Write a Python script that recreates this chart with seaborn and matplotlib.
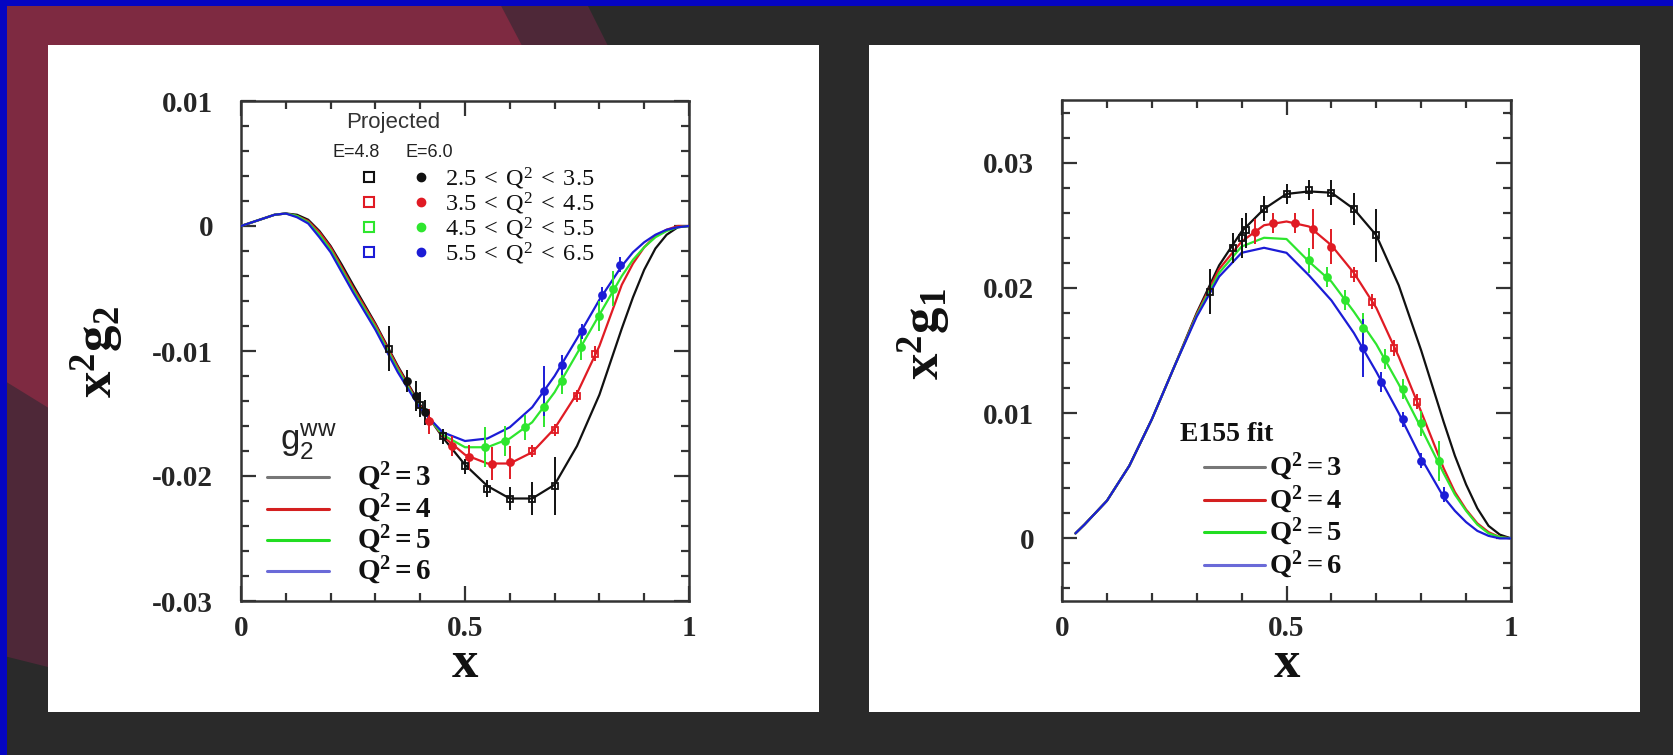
import numpy as np
import pandas as pd
import matplotlib
matplotlib.use("Agg")
import matplotlib.pyplot as plt
import seaborn as sns
from matplotlib.patches import Rectangle, Polygon
from matplotlib.ticker import MultipleLocator

# ---------------- data: x^2 g2 (WW) curves ----------------
x_g2 = [0.0, 0.025, 0.05, 0.075, 0.10, 0.125, 0.15, 0.175, 0.20, 0.225, 0.25, 0.30, 0.35, 0.40,
        0.45, 0.50, 0.55, 0.60, 0.65, 0.70, 0.75, 0.80, 0.85, 0.875, 0.90, 0.925, 0.95, 0.975, 1.0]
g2_q3 = [0.0, 0.0003, 0.0006, 0.0009, 0.0010, 0.0009, 0.0005, -0.0004, -0.0016, -0.0031, -0.0047,
         -0.0078, -0.0112, -0.0143, -0.0169, -0.0191, -0.0208, -0.0218, -0.0218, -0.0207, -0.0176,
         -0.0135, -0.0082, -0.0057, -0.0035, -0.0018, -0.0007, -0.0001, 0.0]
g2_q4 = [0.0, 0.0003, 0.0006, 0.0009, 0.0010, 0.0008, 0.0004, -0.0005, -0.0017, -0.0033, -0.0049,
         -0.0079, -0.0113, -0.0144, -0.0168, -0.0183, -0.0190, -0.0190, -0.0181, -0.0162, -0.0134,
         -0.0096, -0.0047, -0.0030, -0.0017, -0.0008, -0.0003, 0.0, 0.0]
g2_q5 = [0.0, 0.0003, 0.0006, 0.0009, 0.0010, 0.0008, 0.0003, -0.0007, -0.0019, -0.0035, -0.0051,
         -0.0081, -0.0115, -0.0145, -0.0167, -0.0177, -0.0177, -0.0170, -0.0157, -0.0133, -0.0102,
         -0.0071, -0.0040, -0.0027, -0.0017, -0.0009, -0.0004, -0.0001, 0.0]
g2_q6 = [0.0, 0.0003, 0.0006, 0.0009, 0.0010, 0.0007, 0.0002, -0.0009, -0.0021, -0.0037, -0.0053,
         -0.0083, -0.0117, -0.0146, -0.0165, -0.0172, -0.0170, -0.0161, -0.0145, -0.0120, -0.0090,
         -0.0059, -0.0032, -0.0021, -0.0013, -0.0007, -0.0003, -0.0001, 0.0]

# ---------------- data: x^2 g1 (E155 fit) curves ----------------
x_g1 = [0.03, 0.05, 0.10, 0.15, 0.20, 0.25, 0.30, 0.35, 0.40, 0.45, 0.50, 0.55,
        0.60, 0.65, 0.70, 0.75, 0.80, 0.85, 0.875, 0.90, 0.925, 0.95, 0.975, 1.0]
g1_q3 = [0.0004, 0.0011, 0.0030, 0.0058, 0.0095, 0.0137, 0.0180, 0.0218, 0.0245, 0.0263, 0.0275, 0.0277,
         0.0276, 0.0263, 0.0242, 0.0202, 0.0150, 0.0093, 0.0066, 0.0043, 0.0024, 0.0010, 0.0003, 0.0]
g1_q4 = [0.0004, 0.0011, 0.0030, 0.0058, 0.0095, 0.0137, 0.0179, 0.0215, 0.0237, 0.0250, 0.0253, 0.0249,
         0.0234, 0.0212, 0.0184, 0.0145, 0.0101, 0.0056, 0.0037, 0.0023, 0.0012, 0.0005, 0.0001, 0.0]
g1_q5 = [0.0004, 0.0011, 0.0030, 0.0058, 0.0095, 0.0137, 0.0178, 0.0212, 0.0233, 0.0240, 0.0239, 0.0221,
         0.0205, 0.0181, 0.0155, 0.0123, 0.0088, 0.0052, 0.0035, 0.0022, 0.0011, 0.0004, 0.0001, 0.0]
g1_q6 = [0.0004, 0.0011, 0.0030, 0.0058, 0.0095, 0.0137, 0.0177, 0.0209, 0.0228, 0.0232, 0.0228, 0.0210,
         0.0190, 0.0164, 0.0133, 0.0100, 0.0064, 0.0033, 0.0022, 0.0013, 0.0006, 0.0002, 0.0, 0.0]

# ---------------- projected points, x^2 g2 ----------------
p2_k_sq_x = [0.33, 0.40, 0.45, 0.50, 0.55, 0.60, 0.65, 0.70]
p2_k_sq_y = [-0.0098, -0.0143, -0.0168, -0.0192, -0.0210, -0.0218, -0.0218, -0.0208]
p2_k_sq_e = [0.0018, 0.0010, 0.0006, 0.0006, 0.0007, 0.0009, 0.0013, 0.0023]
p2_k_dot_x = [0.37, 0.39, 0.41]
p2_k_dot_y = [-0.0124, -0.0136, -0.0149]
p2_k_dot_e = [0.0009, 0.0012, 0.0010]
p2_r_sq_x = [0.65, 0.70, 0.75, 0.79]
p2_r_sq_y = [-0.0180, -0.0163, -0.0136, -0.0102]
p2_r_sq_e = [0.0005, 0.0005, 0.0005, 0.0006]
p2_r_dot_x = [0.42, 0.47, 0.51, 0.56, 0.60]
p2_r_dot_y = [-0.0156, -0.0176, -0.0185, -0.0190, -0.0189]
p2_r_dot_e = [0.0010, 0.0008, 0.0010, 0.0013, 0.0013]
p2_g_dot_x = [0.545, 0.59, 0.635, 0.676, 0.717, 0.758, 0.80, 0.83]
p2_g_dot_y = [-0.0177, -0.0172, -0.0161, -0.0145, -0.0124, -0.0097, -0.0072, -0.0050]
p2_g_dot_e = [0.0016, 0.0012, 0.0010, 0.0016, 0.0010, 0.0010, 0.0012, 0.0014]
p2_b_dot_x = [0.676, 0.717, 0.762, 0.806, 0.847]
p2_b_dot_y = [-0.0132, -0.0111, -0.0084, -0.0055, -0.0031]
p2_b_dot_e = [0.0020, 0.0008, 0.0006, 0.0006, 0.0006]

# ---------------- projected points, x^2 g1 ----------------
p1_k_sq_x = [0.33, 0.38, 0.40, 0.41, 0.45, 0.50, 0.55, 0.60, 0.65, 0.70]
p1_k_sq_y = [0.0197, 0.0232, 0.0240, 0.0246, 0.0263, 0.0275, 0.0278, 0.0276, 0.0263, 0.0242]
p1_k_sq_e = [0.0018, 0.0012, 0.0016, 0.0014, 0.0010, 0.0008, 0.0008, 0.0010, 0.0013, 0.0021]
p1_r_dot_x = [0.43, 0.47, 0.52, 0.56, 0.60]
p1_r_dot_y = [0.0245, 0.0252, 0.0252, 0.0247, 0.0233]
p1_r_dot_e = [0.0010, 0.0008, 0.0008, 0.0016, 0.0014]
p1_r_sq_x = [0.65, 0.69, 0.74, 0.79]
p1_r_sq_y = [0.0211, 0.0189, 0.0152, 0.0109]
p1_r_sq_e = [0.0006, 0.0006, 0.0006, 0.0006]
p1_g_dot_x = [0.55, 0.59, 0.63, 0.67, 0.72, 0.76, 0.80, 0.84]
p1_g_dot_y = [0.0222, 0.0209, 0.0190, 0.0168, 0.0143, 0.0119, 0.0092, 0.0062]
p1_g_dot_e = [0.0010, 0.0008, 0.0008, 0.0012, 0.0008, 0.0008, 0.0010, 0.0016]
p1_b_dot_x = [0.67, 0.71, 0.76, 0.80, 0.85]
p1_b_dot_y = [0.0152, 0.0125, 0.0095, 0.0062, 0.0035]
p1_b_dot_e = [0.0023, 0.0008, 0.0006, 0.0006, 0.0006]

q2_labels = ["Q^2=3", "Q^2=4", "Q^2=5", "Q^2=6"]
bin_labels = ["2.5\\;<\\;Q^2\\;<\\;3.5", "3.5\\;<\\;Q^2\\;<\\;4.5",
              "4.5\\;<\\;Q^2\\;<\\;5.5", "5.5\\;<\\;Q^2\\;<\\;6.5"]

# ---------------- style ----------------
sns.set_theme(style="ticks")
plt.rcParams["font.family"] = ["Liberation Serif", "DejaVu Sans"]
plt.rcParams["mathtext.fontset"] = "custom"
plt.rcParams["mathtext.rm"] = "Liberation Serif"
plt.rcParams["mathtext.it"] = "Liberation Serif:italic"
plt.rcParams["mathtext.bf"] = "Liberation Serif:bold"
plt.rcParams["mathtext.sf"] = "Liberation Sans"
plt.rcParams["axes.unicode_minus"] = False

W, H = 1673, 755
fig = plt.figure(figsize=(W / 100, H / 100), dpi=100, facecolor="#2a2a2a")

# slide background
bg = fig.add_axes([0, 0, 1, 1])
bg.set_xlim(0, W)
bg.set_ylim(H, 0)
bg.axis("off")
bg.set_zorder(-5)
bg.add_patch(Polygon([(0, 0), (585, 0), (625, 80), (60, 670), (0, 655)],
                     closed=True, fc="#4e2838", ec="none"))
bg.add_patch(Polygon([(0, 0), (498, 0), (540, 80), (60, 415), (0, 378)],
                     closed=True, fc="#7e2a41", ec="none"))
bg.add_patch(Rectangle((0, 0), W, 6, fc="#0505c2", ec="none"))
bg.add_patch(Rectangle((0, 0), 7, H, fc="#0505c2", ec="none"))
bg.add_patch(Rectangle((48, 45), 771, 667, fc="white", ec="none"))
bg.add_patch(Rectangle((869, 45), 771, 667, fc="white", ec="none"))


def axrect(x0, y0, x1, y1):
    return [x0 / W, 1 - y1 / H, (x1 - x0) / W, (y1 - y0) / H]


ax1 = fig.add_axes(axrect(241, 101, 689, 601))
ax2 = fig.add_axes(axrect(1062, 100, 1511, 601))

C_K, C_R, C_G, C_B = "#111111", "#e01b24", "#2ee62e", "#1c1cd6"
colors = [C_K, C_R, C_G, C_B]
leg_colors = ["#777777", "#d42020", "#22dd22", "#6a6ad8"]
spine_c = "#333333"


def style_axes(ax, ylim, yticks, ylabels):
    ax.set_facecolor("white")
    ax.set_xlim(0, 1)
    ax.set_ylim(*ylim)
    ax.set_xticks([0, 0.5, 1], labels=["0", "0.5", "1"], fontsize=21,
                  fontweight="bold", family="Liberation Serif")
    ax.set_yticks(yticks, labels=ylabels, fontsize=21,
                  fontweight="bold", family="Liberation Serif")
    ax.xaxis.set_minor_locator(MultipleLocator(0.1))
    ax.yaxis.set_minor_locator(MultipleLocator(0.002))
    ax.tick_params(which="both", direction="in", top=True, right=True,
                   color=spine_c, width=1.6)
    ax.tick_params(which="major", length=11)
    ax.tick_params(which="minor", length=6)
    ax.tick_params(axis="x", which="major", pad=10)
    ax.tick_params(axis="y", which="major", pad=20)
    for s in ax.spines.values():
        s.set_color(spine_c)
        s.set_linewidth(1.8)


def draw_points(ax, xs, ys, es, color, marker):
    face = "none" if marker == "s" else color
    ax.errorbar(xs, ys, yerr=es, fmt=marker, color=color, mfc=face, mec=color,
                ms=5, mew=1.3, elinewidth=1.4, capsize=0, zorder=4)


# ---- left panel: x^2 g2 ----
for yv, c in zip([g2_q3, g2_q4, g2_q5, g2_q6], colors):
    sns.lineplot(x=x_g2, y=yv, ax=ax1, color=c, lw=1.6, estimator=None,
                 sort=False, legend=False, zorder=3)
draw_points(ax1, p2_k_sq_x, p2_k_sq_y, p2_k_sq_e, C_K, "s")
draw_points(ax1, p2_k_dot_x, p2_k_dot_y, p2_k_dot_e, C_K, "o")
draw_points(ax1, p2_r_sq_x, p2_r_sq_y, p2_r_sq_e, C_R, "s")
draw_points(ax1, p2_r_dot_x, p2_r_dot_y, p2_r_dot_e, C_R, "o")
draw_points(ax1, p2_g_dot_x, p2_g_dot_y, p2_g_dot_e, C_G, "o")
draw_points(ax1, p2_b_dot_x, p2_b_dot_y, p2_b_dot_e, C_B, "o")
style_axes(ax1, (-0.03, 0.01), [-0.03, -0.02, -0.01, 0, 0.01],
           ["-0.03", "-0.02", "-0.01", "0", "0.01"])

# projected legend
ax1.text(0.235, 0.0083, "Projected", family="Liberation Sans", fontsize=16,
         color="#333333", ha="left", va="center")
ax1.text(0.205, 0.0059, "E=4.8", family="Liberation Sans", fontsize=13,
         color="#222222", ha="left", va="center")
ax1.text(0.368, 0.0059, "E=6.0", family="Liberation Sans", fontsize=13,
         color="#222222", ha="left", va="center")
rows = [0.0039, 0.0019, -0.0001, -0.0021]
for yr, c, lab in zip(rows, colors, bin_labels):
    ax1.plot([0.286], [yr], marker="s", ms=7, mfc="none", mec=c, mew=1.5, ls="none")
    ax1.plot([0.401], [yr], marker="o", ms=6, mfc=c, mec=c, ls="none")
    ax1.text(0.455, yr - 0.0001, r"$\mathrm{" + lab + "}$", fontsize=17.5,
             color="#111111", ha="left", va="center")

# g2^ww legend
ax1.text(0.088, -0.0173, r"$\mathsf{g_2^{ww}}$", fontsize=25, color="#222222",
         ha="left", va="center")
rows2 = [-0.0201, -0.0226, -0.0251, -0.0276]
for yr, c, lab in zip(rows2, leg_colors, q2_labels):
    ax1.plot([0.059, 0.196], [yr, yr], color=c, lw=2.2)
    ax1.text(0.259, yr, r"$\mathbf{" + lab + "}$", fontsize=21,
             color="#111111", ha="left", va="center")

# ---- right panel: x^2 g1 ----
for yv, c in zip([g1_q3, g1_q4, g1_q5, g1_q6], colors):
    sns.lineplot(x=x_g1, y=yv, ax=ax2, color=c, lw=1.6, estimator=None,
                 sort=False, legend=False, zorder=3)
draw_points(ax2, p1_k_sq_x, p1_k_sq_y, p1_k_sq_e, C_K, "s")
draw_points(ax2, p1_r_dot_x, p1_r_dot_y, p1_r_dot_e, C_R, "o")
draw_points(ax2, p1_r_sq_x, p1_r_sq_y, p1_r_sq_e, C_R, "s")
draw_points(ax2, p1_g_dot_x, p1_g_dot_y, p1_g_dot_e, C_G, "o")
draw_points(ax2, p1_b_dot_x, p1_b_dot_y, p1_b_dot_e, C_B, "o")
style_axes(ax2, (-0.005, 0.035), [0, 0.01, 0.02, 0.03],
           ["0", "0.01", "0.02", "0.03"])

ax2.text(0.263, 0.0083, "E155 fit", fontsize=20, fontweight="bold",
         family="Liberation Serif", color="#111111", ha="left", va="center")
rows3 = [0.0057, 0.0031, 0.0005, -0.0021]
for yr, c, lab in zip(rows3, leg_colors, q2_labels):
    ax2.plot([0.316, 0.453], [yr, yr], color=c, lw=2.2)
    ax2.text(0.462, yr, r"$\mathbf{" + lab + "}$", fontsize=20.5,
             color="#111111", ha="left", va="center")

# axis labels
fig.text(465 / W, 1 - 664 / H, "x", fontsize=38, fontweight="bold",
         family="Liberation Serif", ha="center", va="center", color="#111111")
fig.text(1287 / W, 1 - 664 / H, "x", fontsize=38, fontweight="bold",
         family="Liberation Serif", ha="center", va="center", color="#111111")
fig.text(97 / W, 1 - 352 / H, r"$\mathbf{x^2g_2}$", fontsize=38, rotation=90,
         ha="center", va="center", color="#111111")
fig.text(924 / W, 1 - 334 / H, r"$\mathbf{x^2g_1}$", fontsize=38, rotation=90,
         ha="center", va="center", color="#111111")

fig.savefig("out.png", dpi=100, facecolor=fig.get_facecolor())
